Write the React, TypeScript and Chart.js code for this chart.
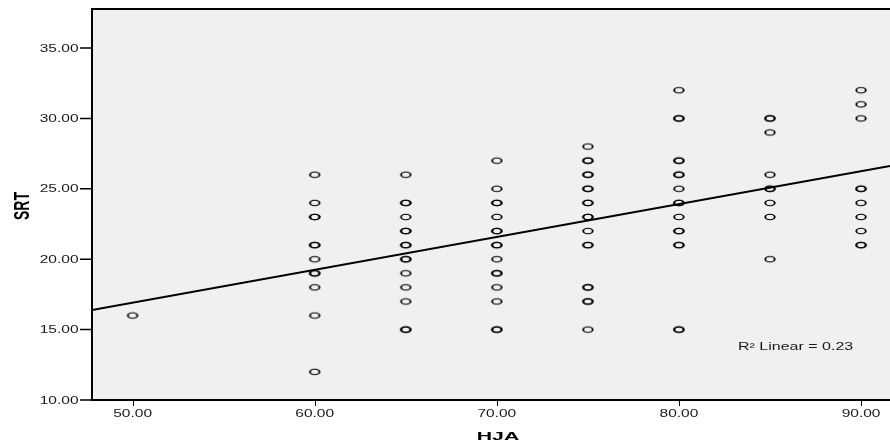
import { useEffect, useRef } from "react";
import { Chart, registerables } from "chart.js";

Chart.register(...registerables);

// ---- Data ----
const HJA_LEVELS = [50, 60, 65, 70, 75, 80, 85, 90];
const SRT_AT_50 = [16];
const SRT_AT_60 = [26, 24, 23, 23, 21, 21, 20, 19, 19, 18, 16, 12];
const SRT_AT_65 = [26, 24, 24, 23, 22, 22, 21, 21, 20, 20, 19, 18, 17, 15, 15];
const SRT_AT_70 = [27, 25, 24, 24, 23, 22, 22, 21, 21, 20, 19, 19, 18, 17, 15, 15];
const SRT_AT_75 = [28, 27, 27, 26, 26, 25, 25, 24, 24, 23, 23, 22, 21, 21, 18, 18, 17, 17, 15];
const SRT_AT_80 = [32, 30, 30, 27, 27, 26, 26, 25, 24, 24, 23, 22, 22, 21, 21, 15, 15];
const SRT_AT_85 = [30, 30, 29, 26, 25, 25, 24, 23, 20];
const SRT_AT_90 = [32, 31, 30, 25, 25, 24, 23, 22, 21, 21];
const SRT_BY_LEVEL = [SRT_AT_50, SRT_AT_60, SRT_AT_65, SRT_AT_70, SRT_AT_75, SRT_AT_80, SRT_AT_85, SRT_AT_90];

// Fit line endpoints (read at the plot edges)
const FIT_X = [47.77, 91.59];
const FIT_Y = [16.39, 26.62];

const X_TICKS = [50, 60, 70, 80, 90];
const X_TICK_LABELS = ["50.00", "60.00", "70.00", "80.00", "90.00"];
const Y_TICKS = [10, 15, 20, 25, 30, 35];
const Y_TICK_LABELS = ["10.00", "15.00", "20.00", "25.00", "30.00", "35.00"];
const X_RANGE = [47.77, 91.59];
const Y_RANGE = [10, 37.77];
const X_TITLE = "HJA";
const Y_TITLE = "SRT";
const FIT_LABEL = "R\u00B2 Linear = 0.23";

const STRETCH = 1.55;
const FONT = '"Liberation Sans", Arial, sans-serif';

function makeMarker(): HTMLCanvasElement {
  const c = document.createElement("canvas");
  c.width = 16;
  c.height = 10;
  const g = c.getContext("2d")!;
  g.strokeStyle = "#000";
  g.translate(8, 5);
  g.scale(1.7, 1);
  g.lineWidth = 1.1;
  g.beginPath();
  g.arc(0, 0, 2.8, 0, Math.PI * 2);
  g.stroke();
  return c;
}

function sText(
  ctx: CanvasRenderingContext2D,
  txt: string,
  x: number,
  y: number,
  align: CanvasTextAlign,
  font: string,
  sx: number = STRETCH
) {
  ctx.save();
  ctx.translate(x, y);
  ctx.scale(sx, 1);
  ctx.font = font;
  ctx.textAlign = align;
  ctx.textBaseline = "alphabetic";
  ctx.fillText(txt, 0, 0);
  ctx.restore();
}

const framePlugin = {
  id: "spssFrame",
  beforeDatasetsDraw(chart: any) {
    const { ctx, chartArea: a } = chart;
    ctx.save();
    ctx.fillStyle = "#f0f0f0";
    ctx.fillRect(a.left, a.top, a.right - a.left, a.bottom - a.top);
    ctx.restore();
  },
  afterDatasetsDraw(chart: any) {
    const { ctx, chartArea: a } = chart;
    const xs = chart.scales.x;
    const ys = chart.scales.y;
    ctx.save();
    ctx.strokeStyle = "#000";
    // frame
    ctx.lineWidth = 2;
    ctx.beginPath();
    ctx.moveTo(a.left, a.top);
    ctx.lineTo(a.right + 2, a.top);
    ctx.moveTo(a.left, a.top - 1);
    ctx.lineTo(a.left, a.bottom + 1);
    ctx.moveTo(a.left - 1, a.bottom);
    ctx.lineTo(a.right + 2, a.bottom);
    ctx.stroke();
    // y ticks
    ctx.lineWidth = 1.5;
    ctx.beginPath();
    Y_TICKS.forEach((v) => {
      const py = ys.getPixelForValue(v);
      ctx.moveTo(a.left - 12, py);
      ctx.lineTo(a.left, py);
    });
    ctx.stroke();
    // x ticks
    ctx.lineWidth = 1;
    ctx.beginPath();
    X_TICKS.forEach((v) => {
      const px = Math.round(xs.getPixelForValue(v)) + 0.5;
      ctx.moveTo(px, a.bottom);
      ctx.lineTo(px, a.bottom + 6);
    });
    ctx.stroke();

    ctx.fillStyle = "#1a1a1a";
    const tickFont = `10px ${FONT}`;
    Y_TICKS.forEach((v, i) => {
      const py = ys.getPixelForValue(v);
      sText(ctx, Y_TICK_LABELS[i], a.left - 13.5, py + 3.6, "right", tickFont);
    });
    X_TICKS.forEach((v, i) => {
      const px = xs.getPixelForValue(v);
      sText(ctx, X_TICK_LABELS[i], px, a.bottom + 17.3, "center", tickFont);
    });

    ctx.fillStyle = "#000";
    sText(ctx, X_TITLE, 498, a.bottom + 39.5, "center", `bold 11.5px ${FONT}`, 1.85);

    // rotated y title
    ctx.save();
    ctx.translate(21.3, (a.top + a.bottom) / 2 + 1.5);
    ctx.rotate(-Math.PI / 2);
    ctx.scale(1, 1.6);
    ctx.font = `bold 14px ${FONT}`;
    ctx.textAlign = "center";
    ctx.textBaseline = "alphabetic";
    ctx.fillText(Y_TITLE, 0, 5);
    ctx.restore();

    ctx.fillStyle = "#1a1a1a";
    sText(ctx, FIT_LABEL, 738, 350, "left", `10px ${FONT}`, 1.6);
    ctx.restore();
  },
};

export default function App() {
  const ref = useRef<HTMLCanvasElement | null>(null);

  useEffect(() => {
    document.body.style.margin = "0";
    const canvas = ref.current;
    if (!canvas) return;
    const marker = makeMarker();
    const points: { x: number; y: number }[] = [];
    HJA_LEVELS.forEach((h, i) => {
      SRT_BY_LEVEL[i].forEach((s) => points.push({ x: h, y: s }));
    });
    const fit = FIT_X.map((x, i) => ({ x, y: FIT_Y[i] }));

    const chart = new Chart(canvas, {
      type: "scatter",
      data: {
        datasets: [
          {
            data: points,
            pointStyle: marker as any,
            pointRadius: 5,
            showLine: false,
          },
          {
            data: fit,
            showLine: true,
            borderColor: "#000",
            borderWidth: 2,
            pointRadius: 0,
            pointHoverRadius: 0,
          },
        ],
      },
      options: {
        animation: false,
        responsive: false,
        events: [],
        layout: { autoPadding: false, padding: { left: 92, top: 9, right: 0, bottom: 44 } },
        plugins: { legend: { display: false }, tooltip: { enabled: false } },
        scales: {
          x: { type: "linear", display: false, min: X_RANGE[0], max: X_RANGE[1] },
          y: { type: "linear", display: false, min: Y_RANGE[0], max: Y_RANGE[1] },
        },
      },
      plugins: [framePlugin],
    });
    return () => chart.destroy();
  }, []);

  return (
    <div style={{ width: 890, height: 444 }}>
      <canvas ref={ref} width={890} height={444} style={{ display: "block" }} />
    </div>
  );
}
